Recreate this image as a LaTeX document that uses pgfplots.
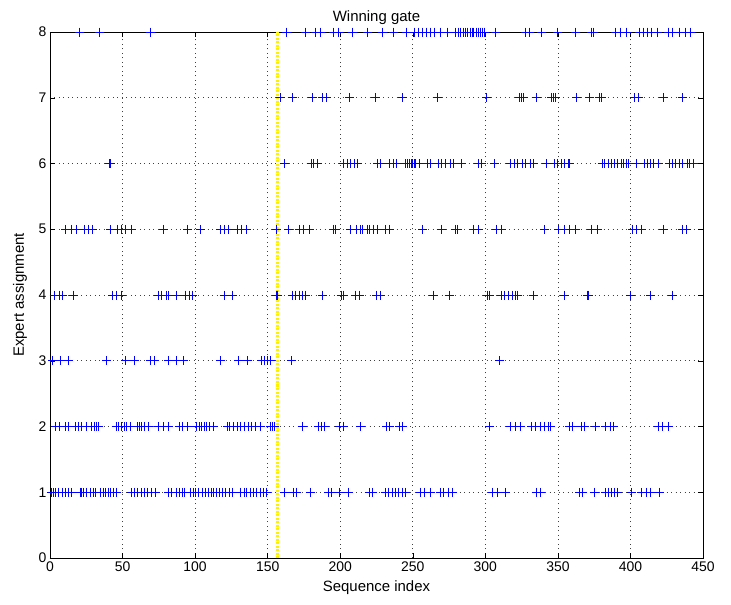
\documentclass[border=0pt]{standalone}
\usepackage{pgfplots}
\pgfplotsset{compat=1.18}
\usepackage{fontspec}
\setmainfont{Liberation Sans}
\begin{document}
\begin{tikzpicture}
\begin{axis}[
  at={(0,0)}, anchor=south west,
  scale only axis, width=653bp, height=526bp,
  xmin=0, xmax=450, ymin=0, ymax=8,
  xtick={0,50,...,450}, ytick={0,1,...,8},
  grid=major,
  major grid style={black!75, dash pattern=on 1bp off 3.5bp, line width=0.6pt},
  tick align=inside, major tick length=5bp,
  tick style={black, line width=0.5pt},
  axis line style={line width=0.5pt},
  tick label style={font=\fontsize{14}{16}\selectfont},
  label style={font=\fontsize{15}{17}\selectfont},
  title style={font=\fontsize{15}{17}\selectfont, yshift=-2bp},
  /pgf/number format/assume math mode=true,
  title={Winning gate},
  xlabel={Sequence index}, ylabel={Expert assignment},
  xlabel style={yshift=-2bp}, ylabel style={yshift=5bp},
  clip=false,
]
\addplot[yellow, line width=3bp, dash pattern=on 2bp off 1.5bp] coordinates {(156.5,0) (156.5,8)};
\addplot[only marks, mark=+, mark size=4.5bp, draw=blue, color=blue, mark options={solid, line width=1bp, draw=blue}] coordinates {
% level 1
(1,1)(2.5,1)(4,1)(6,1)(8.7,1)(10.5,1)(12.7,1)(15,1)(21,1)(22,1)(23,1)(25.4,1)(27.7,1)(30,1)(31.5,1)(35,1)(36.6,1)(38,1)(40.4,1)(42,1)(44,1)(46,1)
(56,1)(58,1)(60.5,1)(63,1)(65,1)(67,1)(70,1)(73,1)
(82,1)(84,1)(87,1)(89,1)(91,1)(93,1)(97,1)(99,1)(100,1)(102,1)(105,1)(107,1)(109,1)(111,1)(112.5,1)(115,1)(117,1)(119,1)(121,1)(124,1)(126,1)
(131.5,1)(134,1)(135.5,1)(138,1)(140,1)(142,1)(145,1)(147,1)(149,1)
(161.6,1)(168,1)(170,1)(179.5,1)(192,1)(194,1)(199.5,1)(206,1)(220,1)(222.5,1)
(231,1)(233,1)(236,1)(238,1)(240.5,1)(243,1)(245,1)(255.6,1)(258,1)(262,1)(269,1)(271.4,1)(274.8,1)(277.5,1)
(305,1)(308.6,1)(314,1)(335.6,1)(338,1)(365,1)(367,1)(375,1)(383,1)(385,1)(387,1)(389,1)(391.4,1)(401,1)(407.6,1)(411,1)(414,1)(420,1)
% level 2
(3.8,2)(6.5,2)(10.5,2)(12.7,2)(17.6,2)(19.4,2)(22,2)(25.4,2)(28.8,2)(30.6,2)(32,2)(33.7,2)
(45.5,2)(47,2)(49,2)(51,2)(53,2)(55.6,2)(60,2)(62,2)(63.4,2)(65,2)(68,2)
(74.6,2)(78,2)(82,2)(89,2)(91,2)(94.6,2)(101,2)(103,2)(104.7,2)(106.5,2)(108,2)(110,2)(112.5,2)
(122.5,2)(124,2)(126.6,2)(129,2)(131.5,2)(134,2)(137,2)(139,2)(141.5,2)(145,2)(152,2)(153,2)(155,2)
(174,2)(185,2)(187,2)(189.5,2)(199.5,2)(202,2)(214,2)(232,2)(234,2)(241,2)(243,2)
(303,2)(317.6,2)(321,2)(324,2)(332,2)(334.5,2)(338,2)(341,2)(343.5,2)(345,2)
(358,2)(360,2)(366,2)(368,2)(376,2)(383,2)(386,2)(388.5,2)(419,2)(422,2)(426,2)
% level 3
(2,3)(7,3)(13,3)(39,3)(52,3)(58,3)(69,3)(72,3)(81.5,3)(87,3)(92,3)(117.6,3)(130,3)(136,3)(146,3)(148,3)(150,3)(151.7,3)(166.5,3)(310,3)
% level 4
(3,4)(6.5,4)(8.7,4)(16.5,4)(43.3,4)(45.5,4)(49,4)(74.6,4)(77,4)(80,4)(82,4)(87,4)(93.5,4)(96,4)(98,4)(120,4)(126,4)
(156,4)(157,4)(167,4)(169.4,4)(171.7,4)(174,4)(176,4)(188,4)(200.7,4)(202,4)(210.7,4)(213,4)
(225,4)(227.5,4)(264.6,4)(275,4)(301.8,4)(303,4)(311,4)(313,4)(315.8,4)(318.7,4)(321,4)(322,4)(333,4)(354.7,4)(370.5,4)(371,4)(400,4)(414,4)(429,4)
% level 5
(11,5)(15,5)(18,5)(24,5)(26.7,5)(29.5,5)(42,5)(46.6,5)(49.4,5)(52,5)(56.5,5)(78,5)(95,5)(104,5)
(117.6,5)(120,5)(123,5)(129,5)(132,5)(135.5,5)(156,5)(164.5,5)(171.6,5)(174.4,5)(178.7,5)(195.7,5)(197,5)
(207,5)(211,5)(214,5)(215.6,5)(218.5,5)(220,5)(222.7,5)(225.6,5)(231,5)(234,5)(257,5)(269.6,5)(279.5,5)(281,5)(292,5)(295,5)
(308,5)(311,5)(340.6,5)(350.6,5)(354.8,5)(357.7,5)(362,5)(373.3,5)(377,5)(401.7,5)(404.5,5)(407.4,5)(423,5)(435.8,5)(438.6,5)
% level 6
(41,6)(42,6)(161.6,6)(180,6)(181.7,6)(184,6)(202.5,6)(204.7,6)(207.4,6)(210,6)(212,6)
(226,6)(227.5,6)(234,6)(236.5,6)(239,6)(245,6)(246.6,6)(247.7,6)(249,6)(250,6)(251,6)(252,6)(254.5,6)(260,6)(262,6)
(268,6)(270,6)(272.5,6)(276,6)(278,6)(283.8,6)(295,6)(297.3,6)(306,6)(317.6,6)(320,6)(322,6)(325.5,6)(328,6)(331,6)(333,6)
(342,6)(348,6)(350,6)(352.5,6)(354.7,6)(357,6)(358,6)(380.6,6)(382.4,6)(384.7,6)(387,6)(389,6)(391.4,6)(393.7,6)(395,6)(397.5,6)(399,6)
(404,6)(410,6)(412,6)(414,6)(416,6)(419,6)(426.8,6)(429,6)(431,6)(433.6,6)(436,6)(439,6)(441,6)(443.7,6)
% level 7
(158.8,7)(166.8,7)(181,7)(187.8,7)(190.6,7)(206.5,7)(224,7)(242.6,7)(266.8,7)(300.9,7)(323.6,7)(325,7)(326.4,7)(335,7)
(345.7,7)(346.9,7)(348.6,7)(363,7)(372,7)(379,7)(379.8,7)(402.6,7)(405.4,7)(423,7)(435.8,7)
% level 8
(20,8)(33.8,8)(69,8)(163,8)(176.4,8)(183,8)(186.6,8)(195.7,8)(198.6,8)(208.5,8)(218.5,8)(229,8)(237,8)(245.5,8)
(251,8)(254,8)(257,8)(259.7,8)(262.5,8)(265,8)(269,8)(274,8)
(279.5,8)(281.5,8)(283,8)(285,8)(286.6,8)(288,8)(289.5,8)(291,8)(292,8)(293.8,8)(295,8)(296.6,8)(298,8)(299.4,8)
(307,8)(328,8)(330.7,8)(339,8)(350,8)(362,8)(373,8)(374.7,8)(390,8)(393,8)(397.4,8)
(406,8)(408.8,8)(411.6,8)(414.5,8)(418.8,8)(426,8)(428.7,8)(434,8)(438,8)(441.5,8)
};
\end{axis}
\pgfresetboundingbox
\path[use as bounding box] (-50bp,-47bp) rectangle (681bp,558bp);
\end{tikzpicture}
\end{document}
